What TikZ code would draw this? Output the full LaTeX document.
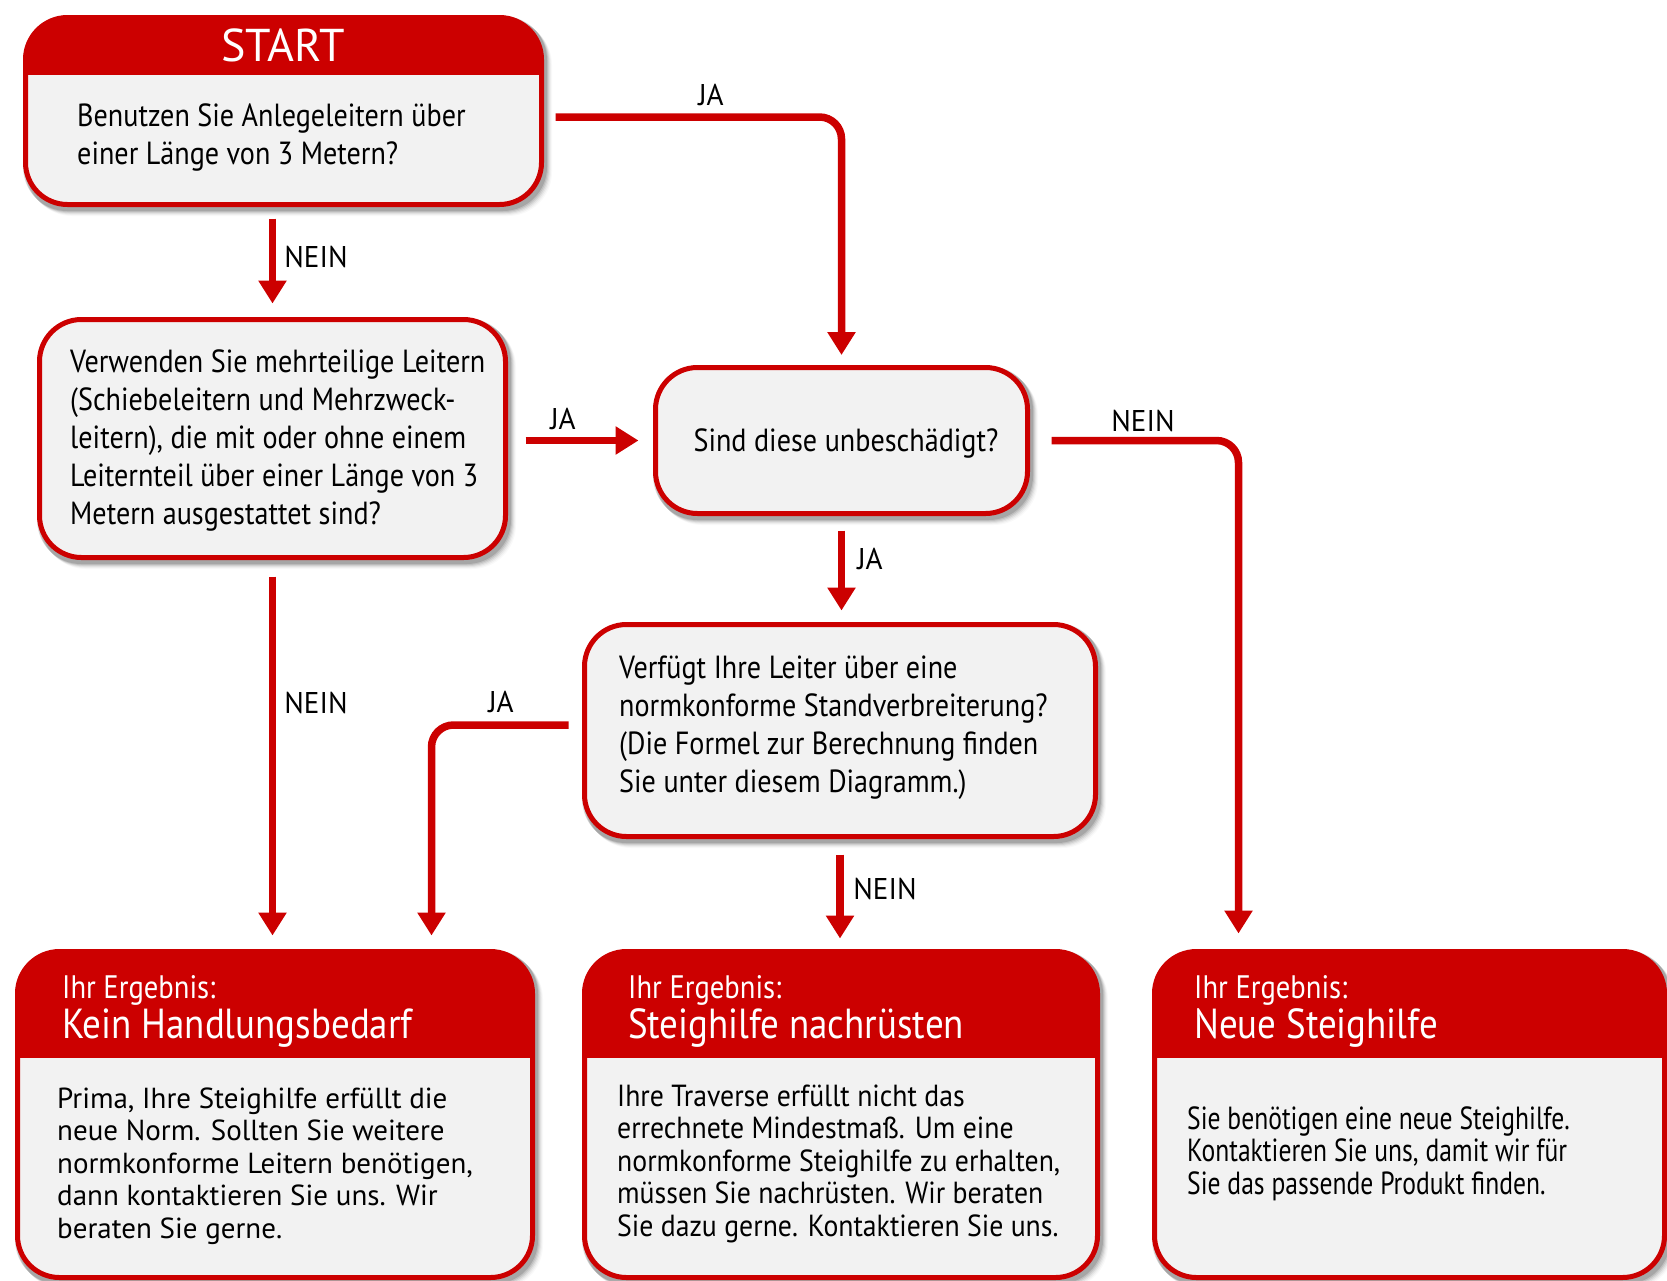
\documentclass[tikz,border=0pt]{standalone}
\usepackage{fontspec}
\setmainfont{PT Sans}[FakeStretch=0.88]
\newfontfamily\widefont{PT Sans}[FakeStretch=1.0]
\newfontfamily\labfont{PT Sans}[FakeStretch=0.97]
\newfontfamily\sixfont{PT Sans}[FakeStretch=0.91]
\newfontfamily\sevenfont{PT Sans}[FakeStretch=0.80]
\usetikzlibrary{arrows.meta,calc}
\definecolor{dred}{RGB}{204,0,0}
\definecolor{boxgray}{RGB}{242,242,242}
\pgfdeclarelayer{bg}
\pgfsetlayers{bg,main}
\newcommand\mylines[1]{\begin{tabular}[t]{@{}l@{}}#1\end{tabular}}
\tikzset{
  qbox/.style={draw=dred, line width=5pt, fill=boxgray, rounded corners=42pt, inner sep=0pt},
  hdr/.style={path picture={\fill[dred, sharp corners] (path picture bounding box.north west) rectangle ([yshift=-#1]path picture bounding box.north east);}},
  conn/.style={draw=dred, line width=7.5pt, -{Triangle[width=27pt,length=23pt]}, rounded corners=22pt},
  qtext/.style={anchor=base west, inner sep=0pt, text=black, font=\fontsize{32}{38}\selectfont},
  rtext/.style={anchor=base west, inner sep=0pt, text=black},
  lbl/.style={anchor=base, inner sep=0pt, text=black, font=\labfont\fontsize{30}{36}\selectfont},
  htitle/.style={anchor=base west, inner sep=0pt, text=white, font=\fontsize{42}{48}\selectfont},
  hsub/.style={anchor=base west, inner sep=0pt, text=white, font=\fontsize{32.5}{36}\selectfont},
}
\begin{document}
\begin{tikzpicture}[x=1pt, y=-1pt]
\useasboundingbox (0,0) rectangle (1667,1280);

% boxes
\node[qbox, hdr=57.5pt, minimum width=516pt, minimum height=187pt] (b1) at (283.5,111) {};
\node[qbox, minimum width=466pt, minimum height=238pt] (b2) at (272.5,438.5) {};
\node[qbox, minimum width=372pt, minimum height=146pt] (b3) at (841.5,440.5) {};
\node[qbox, minimum width=511pt, minimum height=212pt] (b4) at (840,730.5) {};
\node[qbox, hdr=106.5pt, minimum width=515pt, minimum height=326pt] (b5) at (275,1114.5) {};
\node[qbox, hdr=106.5pt, minimum width=513pt, minimum height=326pt] (b6) at (841,1114.5) {};
\node[qbox, hdr=106.5pt, minimum width=510pt, minimum height=326pt] (b7) at (1409.5,1114.5) {};

% shadows and background
\begin{pgfonlayer}{bg}
\fill[white] (0,0) rectangle (1667,1280);
\foreach \n in {b1,b2,b3,b4,b5,b6,b7}{
  \foreach \k/\o in {1/0.12,2/0.09,3/0.07,4/0.05,5/0.035,6/0.025}{
    \fill[black, opacity=\o, rounded corners=44pt]
      ([shift={(\k-1,\k)}]\n.north west) rectangle ([shift={(\k+2,\k+3)}]\n.south east);
  }
}
\end{pgfonlayer}

% header texts
\node[anchor=base, inner sep=0pt, text=white, font=\widefont\fontsize{46}{50}\selectfont] (h1) at (283,61) {START};
\node[hsub] (h5a) at (62,998) {Ihr Ergebnis:};
\node[htitle] (h5b) at (62,1038) {Kein Handlungsbedarf};
\node[hsub] (h6a) at (628,998) {Ihr Ergebnis:};
\node[htitle] (h6b) at (628,1038) {Steighilfe nachrüsten};
\node[hsub] (h7a) at (1194,998) {Ihr Ergebnis:};
\node[htitle] (h7b) at (1194,1038) {Neue Steighilfe};

% body texts
\node[qtext] (t1) at (77,126) {\mylines{Benutzen Sie Anlegeleitern über\\einer Länge von 3 Metern?}};
\node[qtext] (t2) at (70,372) {\mylines{Verwenden Sie mehrteilige Leitern\\(Schiebeleitern und Mehrzweck-\\leitern), die mit oder ohne einem\\Leiternteil über einer Länge von 3\\Metern ausgestattet sind?}};
\node[qtext, anchor=base] (t3) at (846,451) {Sind diese unbeschädigt?};
\node[qtext] (t4) at (619,678) {\mylines{Verfügt Ihre Leiter über eine\\normkonforme Standverbreiterung?\\(Die Formel zur Berechnung finden\\Sie unter diesem Diagramm.)}};
\node[rtext, font=\widefont\fontsize{29}{32.5}\selectfont] (t5) at (57,1108) {\mylines{Prima, Ihre Steighilfe erfüllt die\\neue Norm. Sollten Sie weitere\\normkonforme Leitern benötigen,\\dann kontaktieren Sie uns. Wir\\beraten Sie gerne.}};
\node[rtext, font=\sixfont\fontsize{30.5}{32.5}\selectfont] (t6) at (617,1106) {\mylines{Ihre Traverse erfüllt nicht das\\errechnete Mindestmaß. Um eine\\normkonforme Steighilfe zu erhalten,\\müssen Sie nachrüsten. Wir beraten\\Sie dazu gerne. Kontaktieren Sie uns.}};
\node[rtext, font=\sevenfont\fontsize{32}{32.5}\selectfont] (t7) at (1187,1129) {\mylines{Sie benötigen eine neue Steighilfe.\\Kontaktieren Sie uns, damit wir für\\Sie das passende Produkt finden.}};

% connectors
\draw[conn, shorten <=11.5pt, shorten >=10pt] ([yshift=-6pt]b1.east) -| (b3.north);
\draw[conn, shorten <=11.5pt, shorten >=13.5pt] (b2.north |- b1.south) -- (b2.north);
\draw[conn, shorten <=17.5pt, shorten >=14.5pt] (b2.east |- b3.west) -- (b3.west);
\draw[conn, shorten <=21.5pt, shorten >=15.5pt] (b3.east) -| ([xshift=86.5pt]b7.north west);
\draw[conn, shorten <=14.5pt, shorten >=11.5pt] (b3.south) -- (b3.south |- b4.north);
\draw[conn, shorten <=13.5pt, shorten >=13.5pt] ([yshift=5.5pt]b4.west) -| ([xshift=416.5pt]b5.north west);
\draw[conn, shorten <=16.5pt, shorten >=13.5pt] (b2.south) -- (b2.south |- b5.north);
\draw[conn, shorten <=15.5pt, shorten >=10.5pt] (b4.south) -- (b4.south |- b6.north);

% labels
\node[lbl] (l1) at (711,105) {JA};
\node[lbl] (l2) at (316,267) {NEIN};
\node[lbl] (l3) at (563,429) {JA};
\node[lbl] (l4) at (1143,431) {NEIN};
\node[lbl] (l5) at (870,569) {JA};
\node[lbl] (l6) at (316,713) {NEIN};
\node[lbl] (l7) at (501,712) {JA};
\node[lbl] (l8) at (885,899) {NEIN};
\end{tikzpicture}
\end{document}
